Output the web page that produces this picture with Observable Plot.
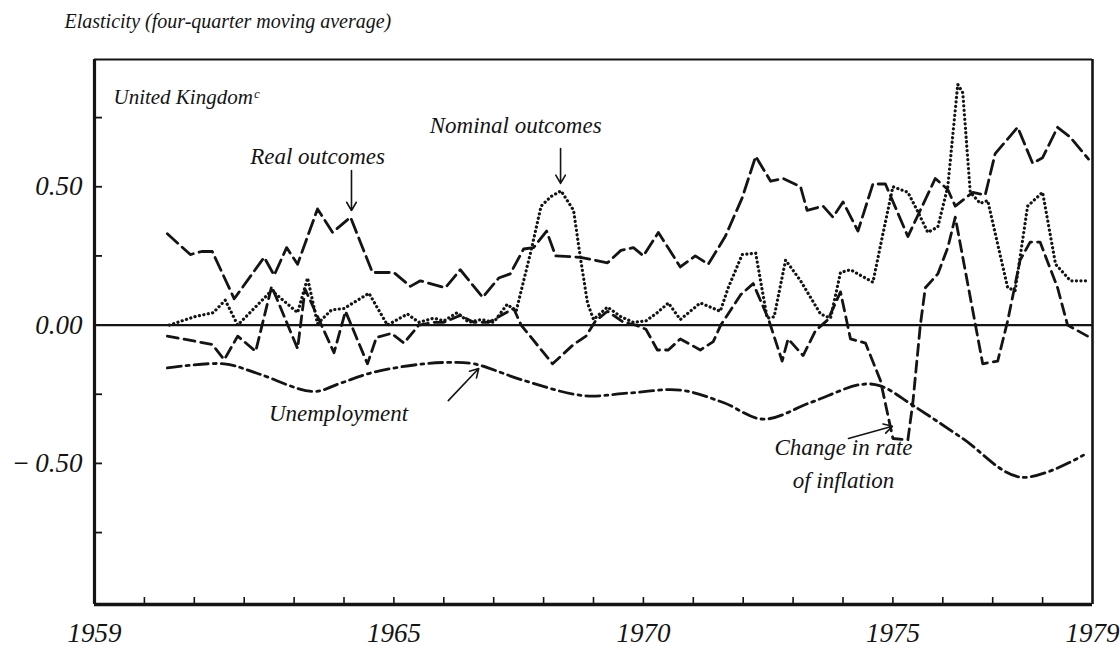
<!DOCTYPE html>
<html>
<head>
<meta charset="utf-8">
<script src="https://cdn.jsdelivr.net/npm/d3@7"></script>
<script src="https://cdn.jsdelivr.net/npm/@observablehq/plot@0.6"></script>
<style>
  body { margin: 0; background: #fff; }
  #chart svg { display: block; }
  #chart svg text { font-family: "Liberation Serif", "DejaVu Serif", serif; }
</style>
</head>
<body>
<div id="chart"></div>
<script>
// ---- data (year, elasticity) ----
const realOutcomes = [
  [1960.46,0.33],[1960.92,0.255],[1961.15,0.266],[1961.36,0.266],[1961.8,0.095],[1962.4,0.245],
  [1962.6,0.18],[1962.85,0.28],[1963.07,0.22],[1963.47,0.42],[1963.77,0.335],[1964.13,0.39],
  [1964.57,0.19],[1965.0,0.19],[1965.33,0.14],[1965.53,0.16],[1966.03,0.135],[1966.33,0.20],
  [1966.78,0.10],[1967.1,0.17],[1967.33,0.185],[1967.6,0.275],[1967.8,0.28],[1968.06,0.34],
  [1968.24,0.25],[1968.74,0.245],[1969.28,0.225],[1969.55,0.27],[1969.8,0.28],[1970.0,0.25],
  [1970.3,0.335],[1970.74,0.21],[1971.04,0.25],[1971.3,0.22],[1971.64,0.32],[1971.98,0.46],
  [1972.25,0.61],[1972.55,0.52],[1972.8,0.53],[1973.15,0.50],[1973.28,0.415],[1973.6,0.43],
  [1973.8,0.39],[1974.0,0.445],[1974.3,0.34],[1974.6,0.51],[1974.85,0.51],[1975.3,0.32],
  [1975.85,0.53],[1976.1,0.49],[1976.25,0.43],[1976.6,0.48],[1976.85,0.47],[1977.05,0.62],
  [1977.5,0.715],[1977.8,0.585],[1978.0,0.605],[1978.3,0.715],[1978.55,0.68],[1978.92,0.60]
];
const nominalOutcomes = [
  [1960.5,0.0],[1961.0,0.03],[1961.38,0.045],[1961.62,0.09],[1961.87,0.0],[1962.55,0.125],
  [1963.07,0.045],[1963.27,0.17],[1963.47,0.005],[1963.75,0.055],[1964.0,0.06],[1964.5,0.115],
  [1964.87,0.0],[1965.27,0.04],[1965.5,0.01],[1965.8,0.025],[1966.0,0.015],[1966.27,0.045],
  [1966.5,0.01],[1966.75,0.02],[1967.0,0.01],[1967.27,0.075],[1967.45,0.05],[1967.75,0.27],
  [1967.95,0.43],[1968.15,0.465],[1968.35,0.485],[1968.6,0.415],[1968.74,0.24],[1968.88,0.08],
  [1969.0,0.02],[1969.28,0.065],[1969.55,0.03],[1969.8,0.01],[1970.05,0.015],[1970.28,0.045],
  [1970.5,0.08],[1970.74,0.02],[1971.14,0.08],[1971.54,0.05],[1971.7,0.135],[1971.98,0.255],
  [1972.25,0.26],[1972.48,0.025],[1972.62,0.03],[1972.85,0.235],[1973.15,0.16],[1973.55,0.04],
  [1973.75,0.025],[1973.95,0.19],[1974.15,0.2],[1974.6,0.155],[1974.8,0.33],[1975.0,0.5],
  [1975.3,0.48],[1975.5,0.41],[1975.7,0.335],[1975.9,0.355],[1976.1,0.5],[1976.3,0.87],
  [1976.4,0.84],[1976.55,0.48],[1976.75,0.44],[1976.9,0.45],[1977.3,0.135],[1977.45,0.125],
  [1977.7,0.43],[1978.0,0.48],[1978.26,0.22],[1978.56,0.16],[1978.92,0.16]
];
const inflationChange = [
  [1960.46,-0.04],[1961.36,-0.07],[1961.6,-0.125],[1961.87,-0.04],[1962.23,-0.095],[1962.55,0.14],
  [1963.07,-0.085],[1963.22,0.13],[1963.8,-0.10],[1964.03,0.05],[1964.47,-0.14],[1964.65,-0.045],
  [1964.95,-0.03],[1965.2,-0.065],[1965.5,0.0],[1965.8,0.01],[1966.0,0.01],[1966.33,0.035],
  [1966.6,0.01],[1966.9,0.01],[1967.2,0.04],[1967.4,0.06],[1967.55,0.0],[1968.18,-0.14],
  [1968.6,-0.07],[1968.85,-0.04],[1969.04,0.015],[1969.28,0.05],[1969.6,0.01],[1969.85,0.0],
  [1970.05,-0.015],[1970.28,-0.09],[1970.5,-0.09],[1970.74,-0.05],[1971.14,-0.09],[1971.4,-0.06],
  [1971.55,0.0],[1971.95,0.11],[1972.2,0.15],[1972.5,0.025],[1972.78,-0.13],[1972.9,-0.05],
  [1973.2,-0.11],[1973.45,-0.02],[1973.7,0.02],[1973.95,0.12],[1974.15,-0.05],[1974.45,-0.065],
  [1974.75,-0.2],[1975.0,-0.41],[1975.3,-0.415],[1975.4,-0.28],[1975.55,0.0],[1975.65,0.135],
  [1975.9,0.185],[1976.1,0.28],[1976.25,0.39],[1976.8,-0.14],[1977.1,-0.13],[1977.3,0.015],
  [1977.55,0.235],[1977.75,0.30],[1977.95,0.30],[1978.3,0.135],[1978.5,0.0],[1978.9,-0.04]
];
const unemployment = [
  [1960.46,-0.155],[1961.6,-0.14],[1962.27,-0.175],[1963.39,-0.24],[1963.93,-0.21],[1964.6,-0.17],
  [1965.6,-0.14],[1966.1,-0.135],[1966.6,-0.14],[1967.6,-0.2],[1968.8,-0.255],[1969.74,-0.245],
  [1970.74,-0.235],[1971.6,-0.28],[1972.4,-0.34],[1973.35,-0.28],[1974.35,-0.215],[1974.75,-0.22],
  [1975.4,-0.29],[1976.4,-0.41],[1977.56,-0.55],[1978.82,-0.47]
];

// ---- axes ----
const xDomain = [1959, 1979];
const yDomain = [-1.01, 0.96];
const xLabelYears = [1959, 1965, 1970, 1975, 1979];
const xMinorYears = [1960,1961,1962,1963,1964,1965,1966,1967,1968,1969,1970,1971,1972,1973,1974,1975,1976,1977,1978];
const yLabelTicks = [0.5, 0, -0.5];
const yTickLabels = ["0.50", "0.00", "\u2212\u20090.50"];
const yMinorTicks = [0.75, 0.5, 0.25, -0.25, -0.5, -0.75];

// ---- annotations ----
const titleText = "Elasticity (four-quarter moving average)";
const panelText = "United Kingdom\u1D9C";
const panelNote = [{text: panelText, year: 1959.38, value: 0.80}];
const seriesNotes = [
  {text: "Real outcomes",    year: 1963.47, value: 0.584,  anchor: "start"},
  {text: "Nominal outcomes", year: 1967.44, value: 0.693,  anchor: "start"},
  {text: "Unemployment",     year: 1963.89, value: -0.345, anchor: "start"},
  {text: "Change in rate",   year: 1974.01, value: -0.471, anchor: "end"},
  {text: "of inflation",     year: 1974.01, value: -0.59,  anchor: "end"}
];
const arrowNotes = [
  {x1: 1964.15, y1: 0.559,  x2: 1964.15, y2: 0.414},
  {x1: 1968.34, y1: 0.638,  x2: 1968.34, y2: 0.512},
  {x1: 1966.09, y1: -0.273, x2: 1966.70, y2: -0.157},
  {x1: 1974.11, y1: -0.41,  x2: 1974.99, y2: -0.366}
];

const rows = (pairs) => pairs.map(([year, value]) => ({year, value}));
const ink = "#141414";
const serif = "'Liberation Serif', 'DejaVu Serif', serif";

const chart = Plot.plot({
  width: 1120,
  height: 650,
  marginLeft: 94,
  marginRight: 28,
  marginTop: 59,
  marginBottom: 46,
  style: {background: "#fff", color: ink, fontFamily: serif},
  x: {domain: xDomain, label: null},
  y: {domain: yDomain, label: null},
  marks: [
    // frame
    Plot.ruleX([xDomain[0]], {stroke: ink, strokeWidth: 3.2}),
    Plot.ruleX([xDomain[1]], {stroke: ink, strokeWidth: 2.6}),
    Plot.ruleY([yDomain[0]], {stroke: ink, strokeWidth: 3.4}),
    Plot.ruleY([yDomain[1]], {stroke: ink, strokeWidth: 1.8}),
    // zero line
    Plot.ruleY([0], {stroke: ink, strokeWidth: 2.2}),
    // inner ticks
    Plot.axisX({ticks: xMinorYears, tickSize: -7, tickFormat: () => "", strokeWidth: 1.6, label: null}),
    Plot.axisY({ticks: yMinorTicks, tickSize: -8, tickFormat: () => "", strokeWidth: 1.8, label: null}),
    // tick labels
    Plot.axisX({ticks: xLabelYears, tickSize: 0, tickPadding: 18, tickFormat: d => String(d),
      fontSize: 27, fontStyle: "italic", fontFamily: serif, label: null}),
    Plot.axisY({ticks: yLabelTicks, tickSize: 0, tickPadding: 12,
      tickFormat: d => yTickLabels[yLabelTicks.indexOf(d)],
      fontSize: 27, fontStyle: "italic", fontFamily: serif, label: null}),
    // series
    Plot.line(rows(unemployment), {x: "year", y: "value", stroke: ink, strokeWidth: 2.8,
      strokeDasharray: "14,5,3,5", curve: "catmull-rom"}),
    Plot.line(rows(inflationChange), {x: "year", y: "value", stroke: ink, strokeWidth: 2.8,
      strokeDasharray: "11,6"}),
    Plot.line(rows(nominalOutcomes), {x: "year", y: "value", stroke: ink, strokeWidth: 3.2,
      strokeDasharray: "0.1,4.4", strokeLinecap: "round"}),
    Plot.line(rows(realOutcomes), {x: "year", y: "value", stroke: ink, strokeWidth: 2.8,
      strokeDasharray: "14,6"}),
    // annotations
    Plot.arrow(arrowNotes, {x1: "x1", y1: "y1", x2: "x2", y2: "y2", bend: false,
      stroke: ink, strokeWidth: 1.6, headLength: 9}),
    Plot.text(seriesNotes, {x: "year", y: "value", text: "text", textAnchor: d => d.anchor,
      lineAnchor: "bottom", fontSize: 23, fontStyle: "italic", fontFamily: serif, fill: ink}),
    Plot.text(panelNote, {x: "year", y: "value", text: "text", textAnchor: "start",
      lineAnchor: "bottom", fontSize: 21, fontStyle: "italic", fontFamily: serif, fill: ink}),
    Plot.text([titleText], {frameAnchor: "top-left", dx: -30, dy: -32, textAnchor: "start",
      lineAnchor: "bottom", fontSize: 20, fontStyle: "italic", fontFamily: serif, fill: ink})
  ]
});
document.getElementById("chart").appendChild(chart);
</script>
</body>
</html>
